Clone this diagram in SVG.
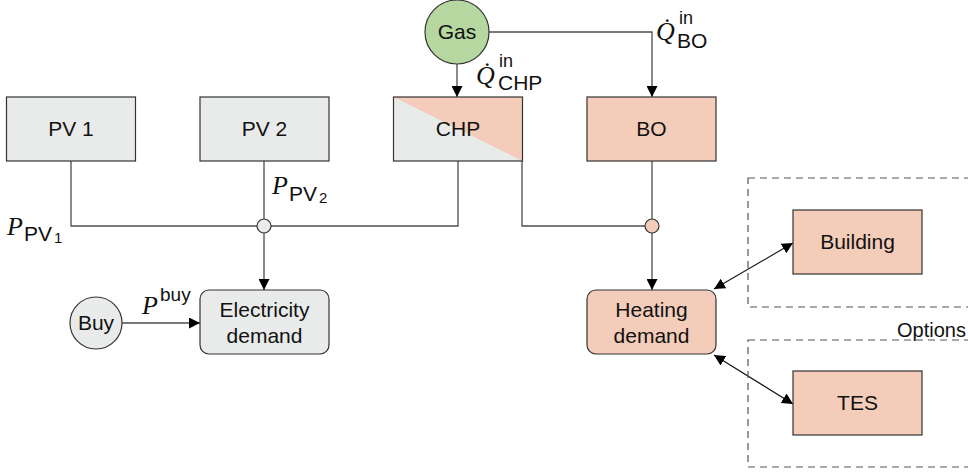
<svg xmlns="http://www.w3.org/2000/svg" width="968" height="472" viewBox="0 0 968 472">
<style>
.box{stroke:#333;stroke-width:1.2}
.grey{fill:#e9ebea}
.peach{fill:#f3cdb9}
.green{fill:#b6d8a0}
.lbl{font-family:"Liberation Sans",Arial,sans-serif;font-size:21px;fill:#111;text-anchor:middle}
.con{fill:none;stroke:#4d4d4d;stroke-width:1.3}
.dbl{fill:none;stroke:#111;stroke-width:1.1}
.dash{fill:none;stroke:#555;stroke-width:1.2;stroke-dasharray:7 5}
.mi{font-family:"Liberation Serif","Times New Roman",serif;font-style:italic;font-size:26px;fill:#111}
.ms{font-family:"Liberation Sans",Arial,sans-serif;fill:#111}
.jn{stroke:#333;stroke-width:1.2}
</style>
<defs>
<marker id="ah" viewBox="0 0 10 10" refX="10" refY="5" markerWidth="11" markerHeight="11" markerUnits="userSpaceOnUse" orient="auto-start-reverse">
<path d="M0,0 L10,5 L0,10 Z" fill="#000"/>
</marker>
</defs>

<g id="connectors">
<path class="con" d="M71,161 V226 H257"/>
<path class="con" d="M264,161 V219"/>
<path class="con" d="M458,161 V226 H271"/>
<path class="con" d="M264,233 V290" marker-end="url(#ah)"/>
<path class="con" d="M122,323 H200" marker-end="url(#ah)"/>
<path class="con" d="M457,64 V97" marker-end="url(#ah)"/>
<path class="con" d="M489,32 H652 V97" marker-end="url(#ah)"/>
<path class="con" d="M522,129 V226 H645"/>
<path class="con" d="M652,161 V219"/>
<path class="con" d="M652,233 V290" marker-end="url(#ah)"/>
<path class="dbl" d="M714,289 L793,243" marker-start="url(#ah)" marker-end="url(#ah)"/>
<path class="dbl" d="M714,355 L793,404" marker-start="url(#ah)" marker-end="url(#ah)"/>
</g>

<g id="junction-el">
<circle class="jn grey" cx="264" cy="226" r="7"/>
</g>
<g id="junction-heat">
<circle class="jn peach" cx="652" cy="226" r="7"/>
</g>

<g id="options">
<rect class="dash" x="748" y="178" width="240" height="129"/>
<rect class="dash" x="748" y="340" width="240" height="127"/>
<text class="ms" x="897" y="337" font-size="20">Options</text>
</g>

<g id="pv1">
<rect class="box grey" x="6.5" y="97" width="129" height="64"/>
<text class="lbl" x="71" y="136">PV 1</text>
</g>
<g id="pv2">
<rect class="box grey" x="200" y="97" width="129" height="64"/>
<text class="lbl" x="264.5" y="136">PV 2</text>
</g>
<g id="chp">
<rect class="grey" x="393.5" y="97" width="129" height="64"/>
<polygon class="peach" points="393.5,97 522.5,97 522.5,161"/>
<rect class="box" fill="none" x="393.5" y="97" width="129" height="64"/>
<text class="lbl" x="458" y="136">CHP</text>
</g>
<g id="bo">
<rect class="box peach" x="587" y="97" width="129" height="64"/>
<text class="lbl" x="651.5" y="136">BO</text>
</g>
<g id="gas">
<circle class="box green" cx="457" cy="32" r="32"/>
<text class="lbl" x="457" y="39">Gas</text>
</g>
<g id="buy">
<circle class="box grey" cx="96" cy="323" r="26"/>
<text class="lbl" x="96" y="330">Buy</text>
</g>
<g id="elec">
<rect class="box grey" x="200" y="290" width="129" height="64" rx="9"/>
<text class="lbl" x="264.5" y="317">Electricity</text>
<text class="lbl" x="264.5" y="343">demand</text>
</g>
<g id="heat">
<rect class="box peach" x="587" y="290" width="129" height="64" rx="9"/>
<text class="lbl" x="651.5" y="317">Heating</text>
<text class="lbl" x="651.5" y="343">demand</text>
</g>
<g id="building">
<rect class="box peach" x="793" y="210" width="129" height="64"/>
<text class="lbl" x="857.5" y="249">Building</text>
</g>
<g id="tes">
<rect class="box peach" x="793" y="371" width="129" height="64"/>
<text class="lbl" x="857.5" y="410">TES</text>
</g>

<g id="labels">
<text class="mi" x="476" y="84">Q̇</text>
<text class="ms" x="499" y="67" font-size="18">in</text>
<text class="ms" x="498" y="90" font-size="21">CHP</text>

<text class="mi" x="656" y="40">Q̇</text>
<text class="ms" x="679" y="24" font-size="18">in</text>
<text class="ms" x="677" y="48" font-size="21">BO</text>

<text class="mi" x="7" y="235">P</text>
<text class="ms" x="24" y="241" font-size="21">PV</text>
<text class="ms" x="54" y="243" font-size="15">1</text>

<text class="mi" x="272" y="194">P</text>
<text class="ms" x="289" y="201" font-size="21">PV</text>
<text class="ms" x="319" y="203" font-size="15">2</text>

<text class="mi" x="142" y="314">P</text>
<text class="ms" x="160" y="301" font-size="19">buy</text>
</g>
</svg>
